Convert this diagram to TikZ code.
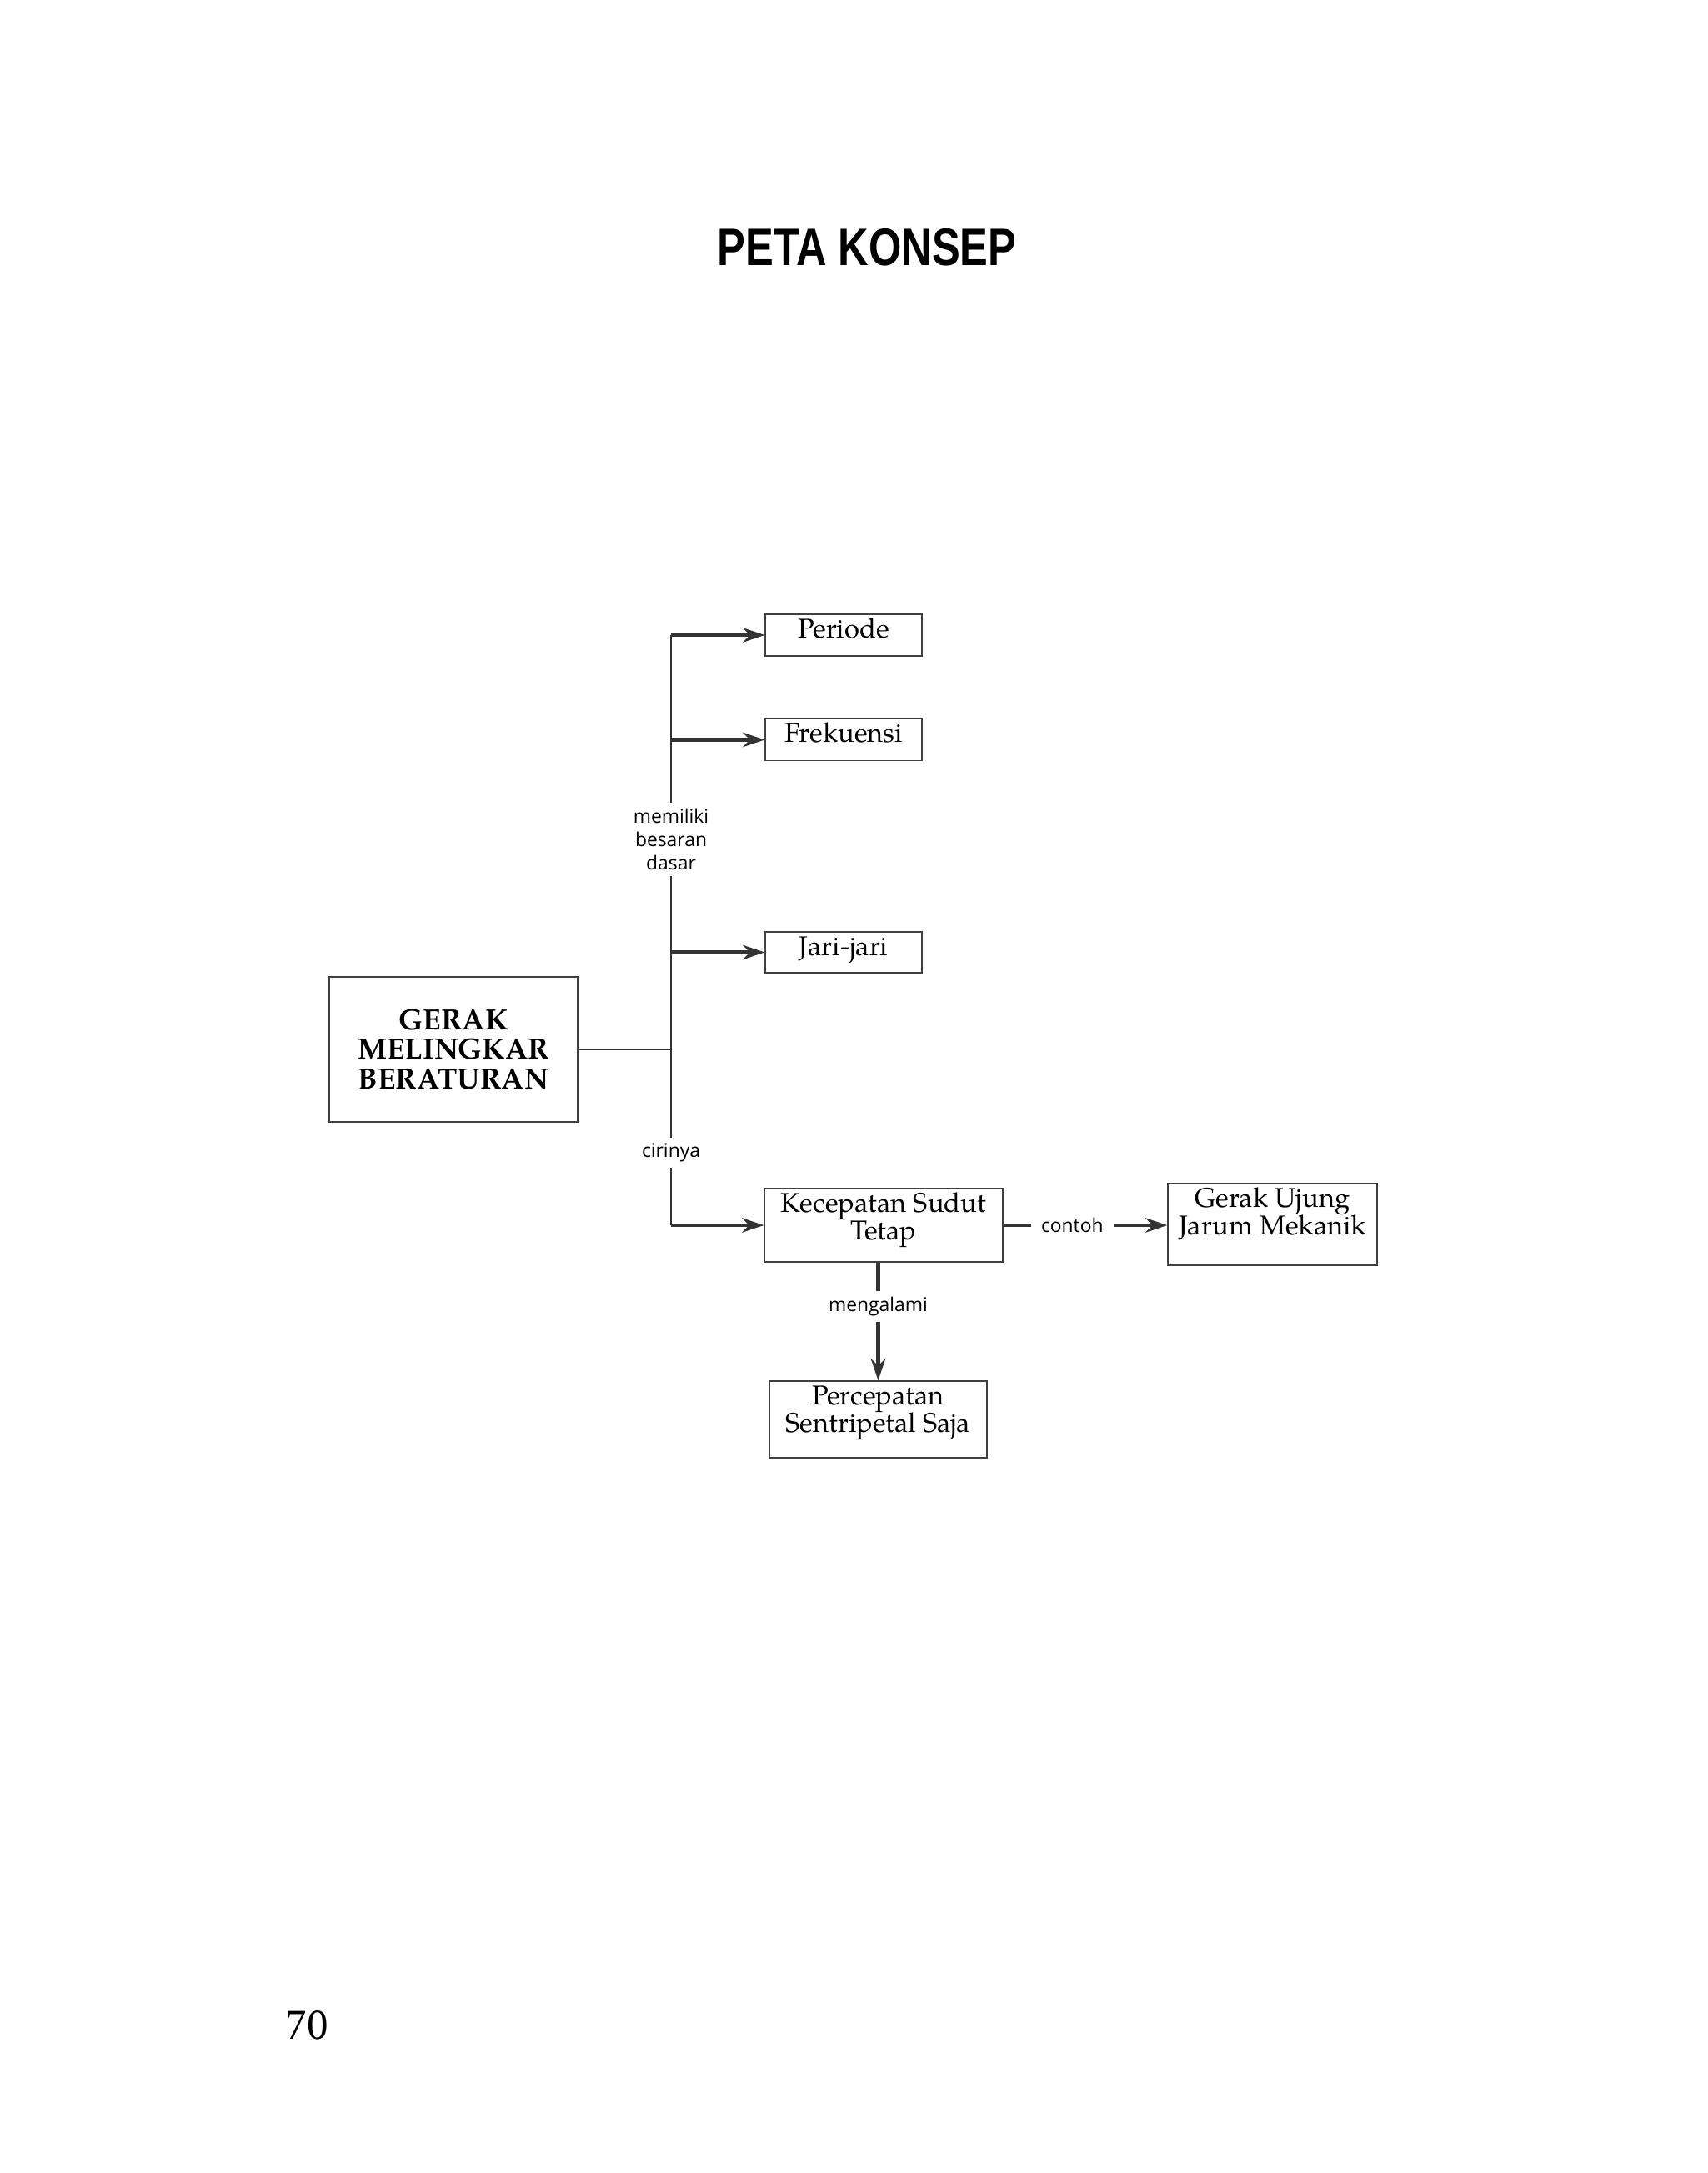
\documentclass[tikz,border=0pt]{standalone}
\usepackage{fontspec}
\setmainfont{Liberation Serif}
\newfontfamily\judulfont[FakeStretch=0.8]{Liberation Sans}
\newfontfamily\katafont{Open Sans}
\newfontfamily\palfont{texgyrepagella}[Extension=.otf, UprightFont=*-regular, BoldFont=*-bold]
\usetikzlibrary{arrows.meta}
\tikzset{
    konsep/.style 2 args={
        draw=black!75, line width=0.4pt, inner sep=0pt,
        font=\palfont\fontsize{9.3}{9.4}\selectfont,
        execute at begin node={\begin{minipage}[c][#2][t]{#1}\centering\rule{0pt}{8pt}},
        execute at end node={\end{minipage}}
    },
    utama/.style={
        draw=black!75, line width=0.4pt, minimum width=2.98cm, minimum height=1.74cm,
        align=center, font=\palfont\bfseries\fontsize{10}{10.2}\selectfont
    },
    garis/.style={draw=black!80, line width=0.45pt},
    panah/.style={draw=black!80, line width=1.15pt, -{Stealth[length=7.5pt,width=5pt,inset=2.5pt]}},
    kata/.style={
        fill=white, align=center, inner xsep=3.5pt, inner ysep=2pt,
        font=\katafont\fontsize{6.5}{8}\selectfont
    },
}
\begin{document}
\begin{tikzpicture}
\useasboundingbox (0,0) rectangle (20.48,-26.07);

\node[anchor=base, font=\judulfont\bfseries\fontsize{18}{20}\selectfont] (judul) at (10.4,-3.19) {PETA KONSEP};
\node[anchor=base, font=\fontsize{14.5}{16}\selectfont] (hal) at (3.68,-24.46) {70};

\node[utama] (gmb) at (5.44,-12.59) {GERAK\\MELINGKAR\\BERATURAN};
\node[konsep={1.88cm}{0.50cm}] (per) at (10.12,-7.62) {Periode};
\node[konsep={1.88cm}{0.50cm}] (frek) at (10.12,-8.875) {Frekuensi};
\node[konsep={1.88cm}{0.49cm}] (jari) at (10.12,-11.425) {Jari-jari};
\node[konsep={2.86cm}{0.88cm}] (kec) at (10.60,-14.70) {Kecepatan Sudut\\Tetap};
\node[konsep={2.51cm}{0.98cm}] (ger) at (15.265,-14.69) {Gerak Ujung\\Jarum Mekanik};
\node[konsep={2.61cm}{0.92cm}] (perc) at (10.535,-17.03) {Percepatan\\Sentripetal Saja};
\coordinate (cabang) at (8.05,-12.59);

\draw[garis] (gmb) -- (cabang);
\draw[garis] (cabang |- per) -- node[kata, pos=0.346] {memiliki\\besaran\\dasar}
    node[kata, pos=0.877] {cirinya} (cabang |- kec);
\foreach \k in {per,frek,jari,kec}
    \draw[panah] (cabang |- \k) -- (\k);
\draw[panah] (kec.east) -- node[kata, pos=0.42] {contoh} (kec.east -| ger.west);
\draw[panah] (kec.south -| perc.north) -- node[kata, pos=0.37] {mengalami} (perc.north);
\end{tikzpicture}
\end{document}
